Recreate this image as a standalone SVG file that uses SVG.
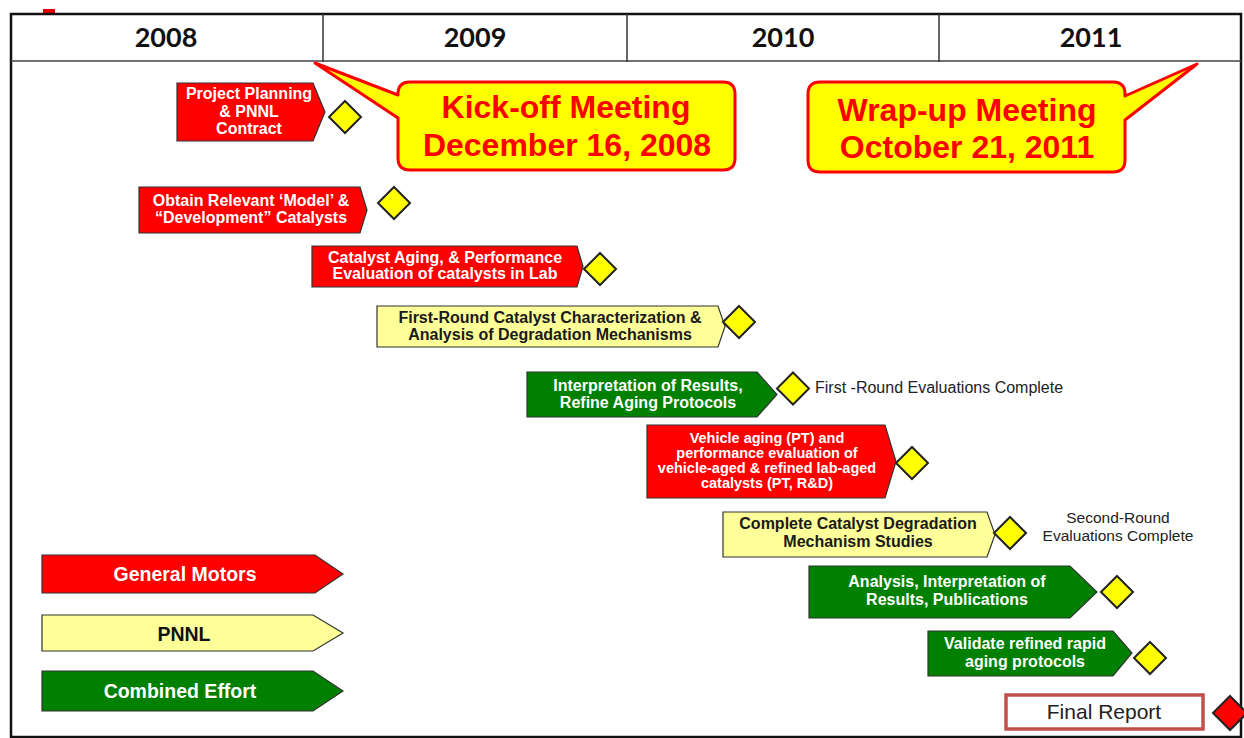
<svg xmlns="http://www.w3.org/2000/svg" width="1244" height="738" viewBox="0 0 1244 738">
<defs>
<style>
.gm{fill:#FF0000;stroke:#333;stroke-width:1.2}
.pn{fill:#FFFF99;stroke:#333;stroke-width:1.2}
.ce{fill:#008000;stroke:#333;stroke-width:1.2}
.ms{fill:#FFFF00;stroke:#222;stroke-width:2}
.tw{font-family:"Liberation Sans",Arial,sans-serif;font-weight:bold;font-size:16px;fill:#fff;text-anchor:middle}
.tk{font-family:"Liberation Sans",Arial,sans-serif;font-weight:bold;font-size:16px;fill:#1a1a1a;text-anchor:middle}
.lbl{font-family:"Liberation Sans",Arial,sans-serif;font-size:16px;fill:#222}
.yr{font-family:Lato,"Liberation Sans",sans-serif;font-weight:bold;font-size:27px;fill:#111;text-anchor:middle}
.co{fill:#FFFF00;stroke:#FF0000;stroke-width:3;stroke-linejoin:round}
.cot{font-family:"Liberation Sans",Arial,sans-serif;font-weight:bold;font-size:32px;fill:#FF0000;text-anchor:middle}
.leg{font-family:"Liberation Sans",Arial,sans-serif;font-weight:bold;font-size:19.5px;text-anchor:middle}
</style>
</defs>
<rect x="0" y="0" width="1244" height="738" fill="#fff"/>
<rect x="43" y="9" width="12" height="4" fill="#E00000"/>

<g id="frame">
<rect x="11" y="14" width="1230" height="723" fill="none" stroke="#111" stroke-width="2.5"/>
<line x1="11" y1="61" x2="1241" y2="61" stroke="#444" stroke-width="1.5"/>
<line x1="323" y1="14" x2="323" y2="62" stroke="#333" stroke-width="1.5"/>
<line x1="627" y1="14" x2="627" y2="62" stroke="#333" stroke-width="1.5"/>
<line x1="939" y1="14" x2="939" y2="62" stroke="#333" stroke-width="1.5"/>
<text class="yr" x="166" y="47">2008</text>
<text class="yr" x="475" y="47">2009</text>
<text class="yr" x="783" y="47">2010</text>
<text class="yr" x="1091" y="47">2011</text>
</g>

<g id="callout-kickoff">
<path class="co" d="M410,82 H723 Q735,82 735,94 V158 Q735,170 723,170 H410 Q398,170 398,158 V118 L315,63 L398,95 V94 Q398,82 410,82 Z"/>
<text class="cot" x="566" y="118">Kick-off Meeting</text>
<text class="cot" x="567" y="156">December 16, 2008</text>
</g>

<g id="callout-wrapup">
<path class="co" d="M820,82 H1113 Q1125,82 1125,94 V96 L1197,64 L1125,120 V160 Q1125,172 1113,172 H820 Q808,172 808,160 V94 Q808,82 820,82 Z"/>
<text class="cot" x="967" y="121">Wrap-up Meeting</text>
<text class="cot" x="967" y="158">October 21, 2011</text>
</g>

<g id="task-project-planning">
<polygon class="gm" points="177,83 313,83 325,112 313,141 177,141"/>
<text class="tw" x="249" y="99">Project Planning</text>
<text class="tw" x="249" y="117">&amp; PNNL</text>
<text class="tw" x="249" y="134">Contract</text>
<polygon class="ms" points="345,101 361,117 345,133 329,117"/>
</g>

<g id="task-obtain-catalysts">
<polygon class="gm" points="139,187 360,187 367,210 360,233 139,233"/>
<text class="tw" x="251" y="206">Obtain Relevant ‘Model’ &amp;</text>
<text class="tw" x="251" y="223">“Development” Catalysts</text>
<polygon class="ms" points="394,187 410,203 394,219 378,203"/>
</g>

<g id="task-catalyst-aging">
<polygon class="gm" points="312,246 577,246 583,266.5 577,287 312,287"/>
<text class="tw" x="445" y="263">Catalyst Aging, &amp; Performance</text>
<text class="tw" x="445" y="279">Evaluation of catalysts in Lab</text>
<polygon class="ms" points="600,253 616,269 600,285 584,269"/>
</g>

<g id="task-first-round-characterization">
<polygon class="pn" points="377,306 718,306 725,326.5 718,347 377,347"/>
<text class="tk" x="550" y="323">First-Round Catalyst Characterization &amp;</text>
<text class="tk" x="550" y="340">Analysis of Degradation Mechanisms</text>
<polygon class="ms" points="739,306 755,322 739,338 723,322"/>
</g>

<g id="task-interpretation">
<polygon class="ce" points="527,372 757,372 777,394.5 757,417 527,417"/>
<text class="tw" x="648" y="391">Interpretation of Results,</text>
<text class="tw" x="648" y="408">Refine Aging Protocols</text>
<polygon class="ms" points="793,372.5 809,388.5 793,404.5 777,388.5"/>
<text class="lbl" x="815" y="393">First -Round Evaluations Complete</text>
</g>

<g id="task-vehicle-aging">
<polygon class="gm" points="647,425 885,425 896,461.5 885,498 647,498"/>
<g style="font-size:14.5px">
<text class="tw" x="767" y="443" style="font-size:14.5px">Vehicle aging (PT) and</text>
<text class="tw" x="767" y="458" style="font-size:14.5px">performance evaluation of</text>
<text class="tw" x="767" y="473" style="font-size:14.5px">vehicle-aged &amp; refined lab-aged</text>
<text class="tw" x="767" y="488" style="font-size:14.5px">catalysts (PT, R&amp;D)</text>
</g>
<polygon class="ms" points="912,447 928,463 912,479 896,463"/>
</g>

<g id="task-degradation-studies">
<polygon class="pn" points="723,512 987,512 995,534.5 987,557 723,557"/>
<text class="tk" x="858" y="529">Complete Catalyst Degradation</text>
<text class="tk" x="858" y="547">Mechanism Studies</text>
<polygon class="ms" points="1010,517 1026,533 1010,549 994,533"/>
<text class="lbl" x="1118" y="523" text-anchor="middle" style="font-size:15.5px">Second-Round</text>
<text class="lbl" x="1118" y="541" text-anchor="middle" style="font-size:15.5px">Evaluations Complete</text>
</g>

<g id="task-analysis-publications">
<polygon class="ce" points="809,566 1070,566 1097,592 1070,618 809,618"/>
<text class="tw" x="947" y="587">Analysis, Interpretation of</text>
<text class="tw" x="947" y="605">Results, Publications</text>
<polygon class="ms" points="1117,576 1133,592 1117,608 1101,592"/>
</g>

<g id="task-validate-protocols">
<polygon class="ce" points="928,631 1113,631 1132,653 1113,676 928,676"/>
<text class="tw" x="1025" y="649">Validate refined rapid</text>
<text class="tw" x="1025" y="667">aging protocols</text>
<polygon class="ms" points="1150,642 1166,658 1150,674 1134,658"/>
</g>

<g id="final-report">
<rect x="1006" y="695" width="197" height="34" fill="#fff" stroke="#C0504D" stroke-width="3.5"/>
<text class="lbl" x="1104" y="719" text-anchor="middle" style="font-size:21px">Final Report</text>
<polygon points="1230,696 1247,713 1230,730 1213,713" fill="#FF0000" stroke="#222" stroke-width="2"/>
</g>

<g id="legend-gm">
<polygon class="gm" points="42,555 315,555 343,574 315,593 42,593"/>
<text class="leg" x="185" y="581" fill="#fff">General Motors</text>
</g>
<g id="legend-pnnl">
<polygon class="pn" points="42,615 313,615 343,633 313,651 42,651"/>
<text class="leg" x="184" y="641" fill="#111">PNNL</text>
</g>
<g id="legend-combined">
<polygon class="ce" points="42,671 313,671 343,691 313,711 42,711"/>
<text class="leg" x="180" y="698" fill="#fff">Combined Effort</text>
</g>
</svg>
